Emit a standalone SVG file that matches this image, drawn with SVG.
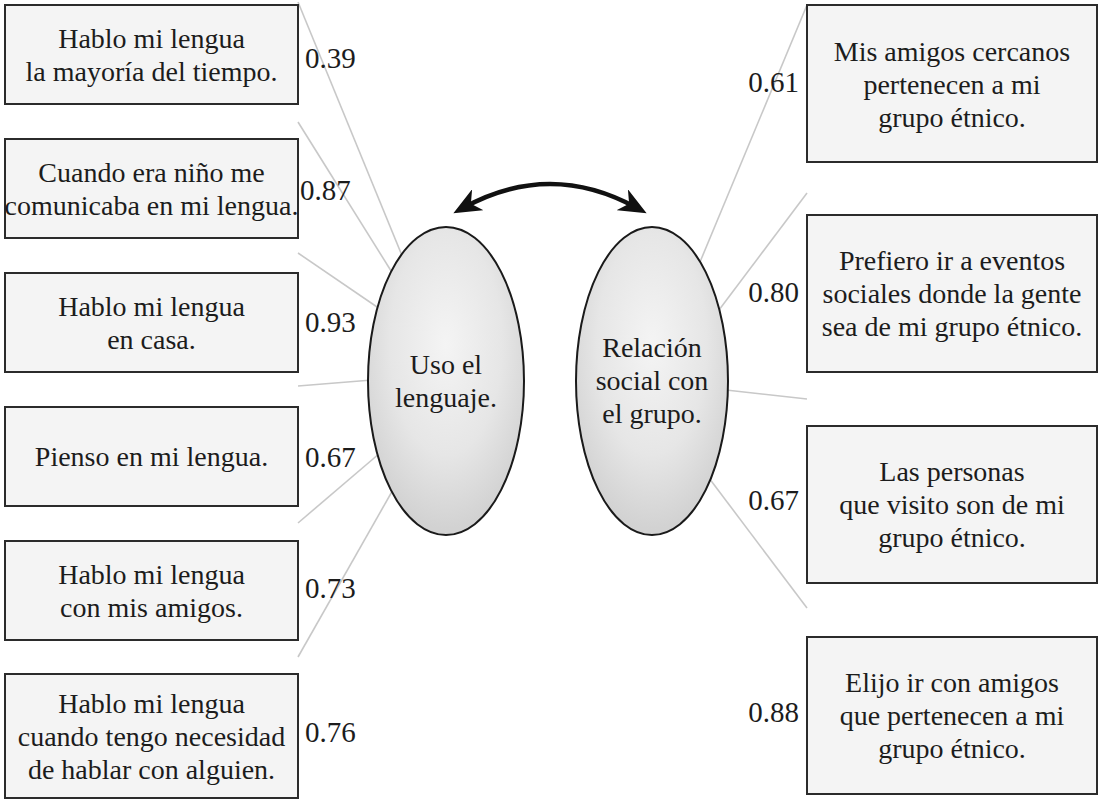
<svg xmlns="http://www.w3.org/2000/svg" width="1099" height="800" viewBox="0 0 1099 800" font-family="Liberation Serif, Times New Roman, serif">
<style>
.box{fill:#f4f4f4;stroke:#2b2b2b;stroke-width:2}
.t{font-size:28px;fill:#1c1c1c;text-anchor:middle}
.lab{font-size:29px;fill:#1c1c1c}
.lr{text-anchor:end}
.conn line{stroke:#c8c8c8;stroke-width:1.6}
.lat{fill:url(#eg);stroke:#1a1a1a;stroke-width:2}
</style>
<defs>
<radialGradient id="eg" cx="50%" cy="38%" r="60%">
<stop offset="0" stop-color="#f4f4f4"/>
<stop offset="0.6" stop-color="#e6e6e6"/>
<stop offset="1" stop-color="#d2d2d2"/>
</radialGradient>
<marker id="ah" viewBox="0 0 28 24" refX="17" refY="12" markerWidth="28" markerHeight="24" markerUnits="userSpaceOnUse" orient="auto-start-reverse">
<path d="M0,0 L28,12 L0,24 L8,12 z" fill="#111"/>
</marker>
</defs>
<rect width="1099" height="800" fill="#fff"/>
<g id="connectors" class="conn">
<line x1="298" y1="2" x2="403" y2="258"/>
<line x1="298" y1="122" x2="393" y2="274"/>
<line x1="298" y1="253" x2="380" y2="309"/>
<line x1="298" y1="386" x2="372" y2="380"/>
<line x1="298" y1="523" x2="380" y2="453"/>
<line x1="298" y1="657" x2="394" y2="488"/>
<line x1="807" y1="5" x2="700" y2="262"/>
<line x1="807" y1="193" x2="719" y2="310"/>
<line x1="807" y1="399" x2="726" y2="390"/>
<line x1="807" y1="608" x2="709" y2="478"/>
<path d="M463,208 Q550,160 637,208" fill="none" stroke="#111" stroke-width="4.5" marker-start="url(#ah)" marker-end="url(#ah)"/>
</g>
<g id="latent-uso">
<ellipse class="lat" cx="446" cy="381" rx="78" ry="154"/>
<text class="t" x="446" y="374">Uso el</text>
<text class="t" x="446" y="407">lenguaje.</text>
</g>
<g id="latent-relacion">
<ellipse class="lat" cx="652" cy="381" rx="76" ry="154"/>
<text class="t" x="652" y="357">Relación</text>
<text class="t" x="652" y="390">social con</text>
<text class="t" x="652" y="423">el grupo.</text>
</g>
<g id="l1">
<rect class="box" x="5" y="5" width="293" height="99"/>
<text class="t" x="151.5" y="48">Hablo mi lengua</text>
<text class="t" x="151.5" y="81">la mayoría del tiempo.</text>
<text class="lab" x="305" y="68">0.39</text>
</g>
<g id="l2">
<rect class="box" x="5" y="139" width="293" height="99"/>
<text class="t" x="151.5" y="182">Cuando era niño me</text>
<text class="t" x="151.5" y="215">comunicaba en mi lengua.</text>
<text class="lab" x="300" y="200">0.87</text>
</g>
<g id="l3">
<rect class="box" x="5" y="273" width="293" height="99"/>
<text class="t" x="151.5" y="316">Hablo mi lengua</text>
<text class="t" x="151.5" y="349">en casa.</text>
<text class="lab" x="305" y="332">0.93</text>
</g>
<g id="l4">
<rect class="box" x="5" y="407" width="293" height="99"/>
<text class="t" x="151.5" y="466">Pienso en mi lengua.</text>
<text class="lab" x="305" y="467">0.67</text>
</g>
<g id="l5">
<rect class="box" x="5" y="541" width="293" height="99"/>
<text class="t" x="151.5" y="584">Hablo mi lengua</text>
<text class="t" x="151.5" y="617">con mis amigos.</text>
<text class="lab" x="305" y="598">0.73</text>
</g>
<g id="l6">
<rect class="box" x="5" y="674" width="293" height="124"/>
<text class="t" x="151.5" y="713">Hablo mi lengua</text>
<text class="t" x="151.5" y="746">cuando tengo necesidad</text>
<text class="t" x="151.5" y="779">de hablar con alguien.</text>
<text class="lab" x="305" y="742">0.76</text>
</g>
<g id="r1">
<rect class="box" x="807" y="5" width="290" height="157"/>
<text class="t" x="952" y="61">Mis amigos cercanos</text>
<text class="t" x="952" y="94">pertenecen a mi</text>
<text class="t" x="952" y="127">grupo étnico.</text>
<text class="lab lr" x="799" y="92">0.61</text>
</g>
<g id="r2">
<rect class="box" x="807" y="215" width="290" height="157"/>
<text class="t" x="952" y="270">Prefiero ir a eventos</text>
<text class="t" x="952" y="303">sociales donde la gente</text>
<text class="t" x="952" y="336">sea de mi grupo étnico.</text>
<text class="lab lr" x="799" y="302">0.80</text>
</g>
<g id="r3">
<rect class="box" x="807" y="426" width="290" height="157"/>
<text class="t" x="952" y="481">Las personas</text>
<text class="t" x="952" y="514">que visito son de mi</text>
<text class="t" x="952" y="547">grupo étnico.</text>
<text class="lab lr" x="799" y="510">0.67</text>
</g>
<g id="r4">
<rect class="box" x="807" y="637" width="290" height="157"/>
<text class="t" x="952" y="692">Elijo ir con amigos</text>
<text class="t" x="952" y="725">que pertenecen a mi</text>
<text class="t" x="952" y="758">grupo étnico.</text>
<text class="lab lr" x="799" y="722">0.88</text>
</g>
</svg>
